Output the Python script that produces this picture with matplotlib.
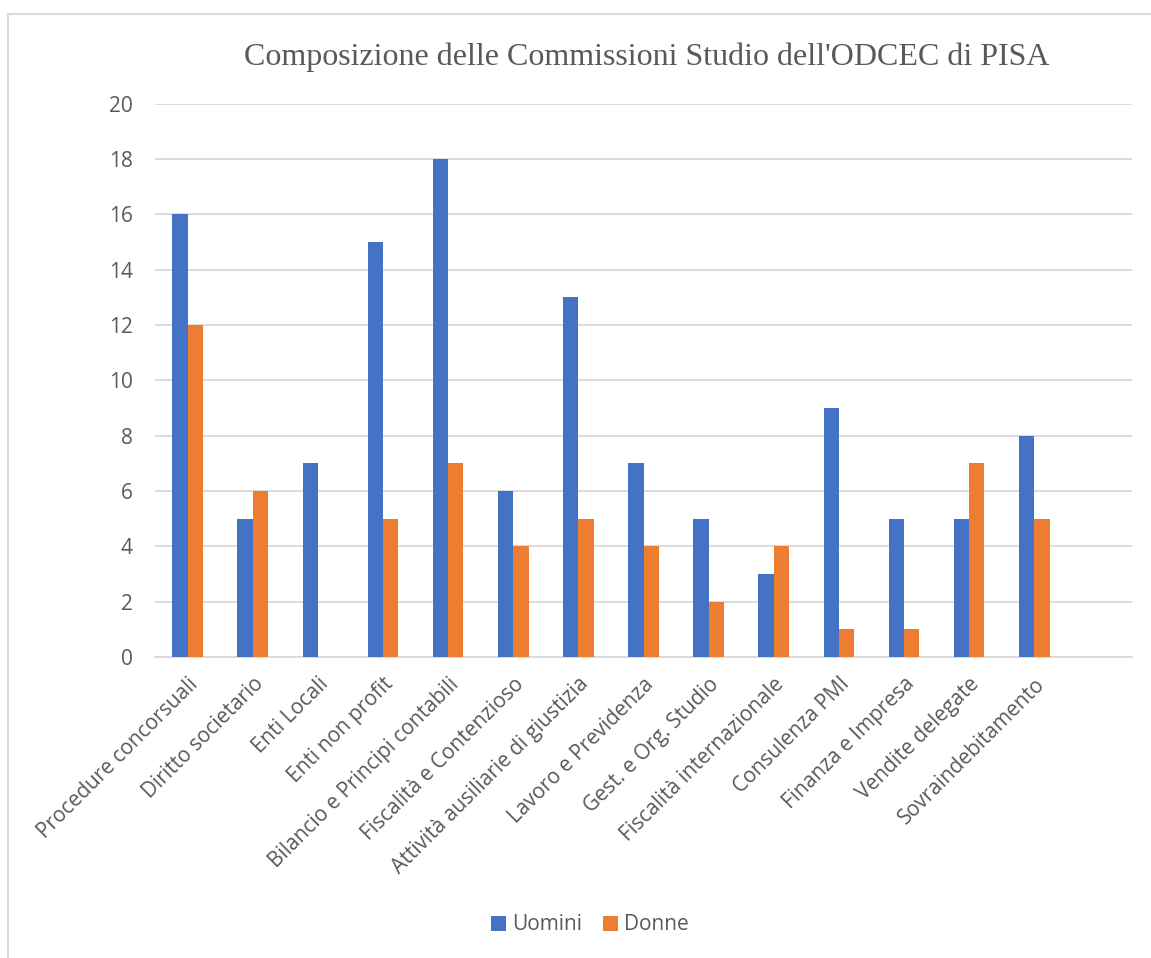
import numpy as np
import matplotlib
matplotlib.use("Agg")
from matplotlib import pyplot as plt
from matplotlib.patches import Rectangle

## Data
#
categories = ['Procedure concorsuali', 'Diritto societario', 'Enti Locali',
              'Enti non profit', 'Bilancio e Principi contabili',
              'Fiscalità e Contenzioso', 'Attività ausiliarie di giustizia',
              'Lavoro e Previdenza', 'Gest. e Org. Studio',
              'Fiscalità internazionale', 'Consulenza PMI', 'Finanza e Impresa',
              'Vendite delegate', 'Sovraindebitamento']
uomini = [16, 5, 7, 15, 18, 6, 13, 7, 5, 3, 9, 5, 5, 8]
donne = [12, 6, 0, 5, 7, 4, 5, 4, 2, 4, 1, 1, 7, 5]

blue = '#4472C4'
orange = '#ED7D31'
grid_c = '#D9D9D9'
text_c = '#595959'

plt.rcParams['font.family'] = ['Open Sans', 'DejaVu Sans']

W, H = 1151, 958
fig = plt.figure(figsize=(W / 100, H / 100), dpi=100)
ax = fig.add_axes([155 / W, 1 - 657 / H, (1132 - 155) / W, (657 - 103.5) / H])

x = np.arange(len(categories))
bw = 0.235
ax.bar(x - bw / 2, uomini, bw, color=blue, label='Uomini', zorder=3)
ax.bar(x + bw / 2, donne, bw, color=orange, label='Donne', zorder=3)

ax.set_xlim(-0.5, len(categories) + 0.5)   # one empty slot at the end
ax.set_ylim(0, 20)
ax.set_yticks(range(0, 21, 2))
ax.yaxis.grid(True, color=grid_c, linewidth=1.3, zorder=0)
for s in ['top', 'right', 'left']:
    ax.spines[s].set_visible(False)
ax.spines['bottom'].set_color(grid_c)
ax.spines['bottom'].set_linewidth(1.3)

ax.set_xticks(x)
ax.set_xticklabels(categories, rotation=45, ha='right', rotation_mode='anchor',
                   fontsize=15, color=text_c)
ax.tick_params(axis='x', length=0, pad=12)
ax.tick_params(axis='y', length=0, pad=16, labelsize=15, labelcolor=text_c)

fig.text(647 / W, 1 - 57 / H, "Composizione delle Commissioni Studio dell'ODCEC di PISA",
         family='Liberation Serif', fontsize=23, color=text_c,
         ha='center', va='center')

fig.legend(loc='center', bbox_to_anchor=(590 / W, 1 - 925 / H), ncol=2,
           frameon=False, fontsize=15, labelcolor=text_c,
           handlelength=0.7, handleheight=0.7, handletextpad=0.3,
           columnspacing=1.0)

# outer chart border (cropped on the right and bottom)
fig.patches.append(Rectangle((8 / W, -0.1), 1.2, 1.1 - 14 / H,
                             transform=fig.transFigure, fill=False,
                             edgecolor=grid_c, linewidth=1.5))

fig.savefig('out.png', dpi=100, facecolor='white')
